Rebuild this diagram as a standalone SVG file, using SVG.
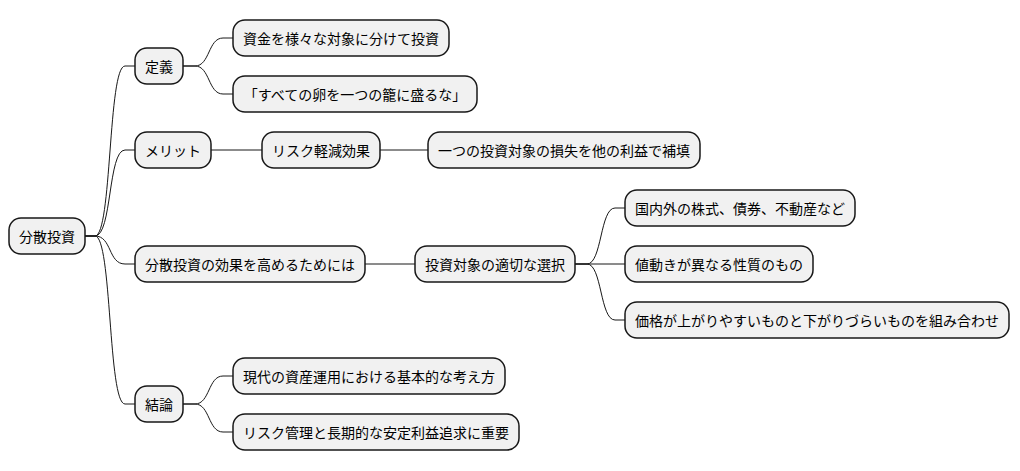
<svg xmlns="http://www.w3.org/2000/svg" width="1020" height="471" viewBox="0 0 1020 471">
<style>
.n rect{fill:#F1F1F1;stroke:#181818;stroke-width:1.5}
.n text{font-family:"Noto Sans CJK JP","Noto Sans",sans-serif;font-size:14px;fill:#000;text-anchor:middle;dominant-baseline:central}
#edges path{fill:none;stroke:#181818;stroke-width:1}
</style>
<rect width="1020" height="471" fill="#FFFFFF"/>
<g id="edges">
<path d="M85,236 L95,236 C112,236 108,66 125,66 L135,66"/>
<path d="M85,236 L95,236 C112,236 108,150 125,150 L135,150"/>
<path d="M85,236 L95,236 C112,236 108,264 125,264 L135,264"/>
<path d="M85,236 L95,236 C112,236 108,404 125,404 L135,404"/>
<path d="M183,66 L195,66 C210,66 208,38 223,38 L233,38"/>
<path d="M183,66 L195,66 C210,66 208,94 223,94 L233,94"/>
<path d="M211,150 L262,150"/>
<path d="M380,150 L428,150"/>
<path d="M365,264 L415,264"/>
<path d="M575,264 L587,264 C602,264 600,208 615,208 L625,208"/>
<path d="M575,264 L625,264"/>
<path d="M575,264 L587,264 C602,264 600,320 615,320 L625,320"/>
<path d="M183,404 L195,404 C210,404 208,376 223,376 L233,376"/>
<path d="M183,404 L195,404 C210,404 208,432 223,432 L233,432"/>
</g>
<g id="root" class="n"><rect x="9" y="218" width="76" height="36" rx="12"/><text x="47" y="236">分散投資</text></g>
<g id="teigi" class="n"><rect x="135" y="48" width="48" height="36" rx="12"/><text x="159" y="66">定義</text></g>
<g id="teigi1" class="n"><rect x="233" y="20" width="216" height="36" rx="12"/><text x="341" y="38">資金を様々な対象に分けて投資</text></g>
<g id="teigi2" class="n"><rect x="233" y="76" width="244" height="36" rx="12"/><text x="355" y="94">「すべての卵を一つの籠に盛るな」</text></g>
<g id="merit" class="n"><rect x="135" y="132" width="76" height="36" rx="12"/><text x="173" y="150">メリット</text></g>
<g id="risk" class="n"><rect x="262" y="132" width="118" height="36" rx="12"/><text x="321" y="150">リスク軽減効果</text></g>
<g id="hoten" class="n"><rect x="428" y="132" width="272" height="36" rx="12"/><text x="564" y="150">一つの投資対象の損失を他の利益で補填</text></g>
<g id="kouka" class="n"><rect x="135" y="246" width="230" height="36" rx="12"/><text x="250" y="264">分散投資の効果を高めるためには</text></g>
<g id="sentaku" class="n"><rect x="415" y="246" width="160" height="36" rx="12"/><text x="495" y="264">投資対象の適切な選択</text></g>
<g id="s1" class="n"><rect x="625" y="190" width="230" height="36" rx="12"/><text x="740" y="208">国内外の株式、債券、不動産など</text></g>
<g id="s2" class="n"><rect x="625" y="246" width="188" height="36" rx="12"/><text x="719" y="264">値動きが異なる性質のもの</text></g>
<g id="s3" class="n"><rect x="625" y="302" width="384" height="36" rx="12"/><text x="817" y="320">価格が上がりやすいものと下がりづらいものを組み合わせ</text></g>
<g id="ketsuron" class="n"><rect x="135" y="386" width="48" height="36" rx="12"/><text x="159" y="404">結論</text></g>
<g id="k1" class="n"><rect x="233" y="358" width="272" height="36" rx="12"/><text x="369" y="376">現代の資産運用における基本的な考え方</text></g>
<g id="k2" class="n"><rect x="233" y="414" width="286" height="36" rx="12"/><text x="376" y="432">リスク管理と長期的な安定利益追求に重要</text></g>
</svg>
